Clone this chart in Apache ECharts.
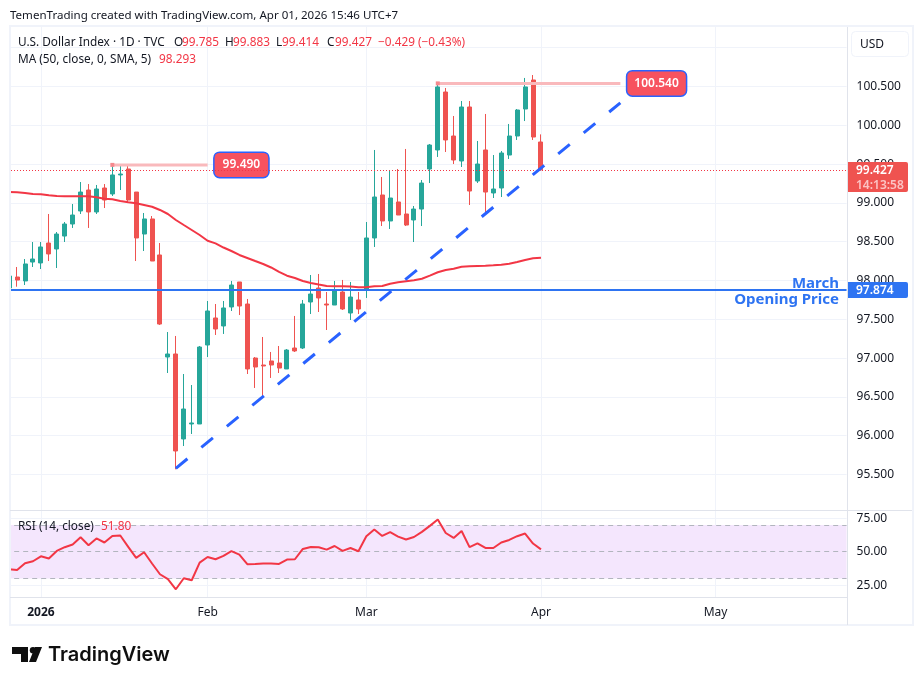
<!DOCTYPE html>
<html>
<head>
<meta charset="utf-8">
<title>U.S. Dollar Index</title>
<script src="https://cdn.jsdelivr.net/npm/echarts@6/dist/echarts.min.js"></script>
<style>
html, body { margin: 0; padding: 0; background: #fff; }
#chart { width: 923px; height: 685px; }
</style>
</head>
<body>
<div id="chart"></div>
<script>
// trading days, Dec 26 to the empty space after the last bar
var dates = ["2025-12-26", "2025-12-29", "2025-12-30", "2025-12-31", "2026-01-02",
    "2026-01-05", "2026-01-06", "2026-01-07", "2026-01-08", "2026-01-09",
    "2026-01-12", "2026-01-13", "2026-01-14", "2026-01-15", "2026-01-16",
    "2026-01-19", "2026-01-20", "2026-01-21", "2026-01-22", "2026-01-23",
    "2026-01-26", "2026-01-27", "2026-01-28", "2026-01-29", "2026-01-30",
    "2026-02-02", "2026-02-03", "2026-02-04", "2026-02-05", "2026-02-06",
    "2026-02-09", "2026-02-10", "2026-02-11", "2026-02-12", "2026-02-13",
    "2026-02-16", "2026-02-17", "2026-02-18", "2026-02-19", "2026-02-20",
    "2026-02-23", "2026-02-24", "2026-02-25", "2026-02-26", "2026-02-27",
    "2026-03-02", "2026-03-03", "2026-03-04", "2026-03-05", "2026-03-06",
    "2026-03-09", "2026-03-10", "2026-03-11", "2026-03-12", "2026-03-13",
    "2026-03-16", "2026-03-17", "2026-03-18", "2026-03-19", "2026-03-20",
    "2026-03-23", "2026-03-24", "2026-03-25", "2026-03-26", "2026-03-27",
    "2026-03-30", "2026-03-31", "2026-04-01", "2026-04-02", "2026-04-03",
    "2026-04-06", "2026-04-07", "2026-04-08", "2026-04-09", "2026-04-10",
    "2026-04-13", "2026-04-14", "2026-04-15", "2026-04-16", "2026-04-17",
    "2026-04-20", "2026-04-21", "2026-04-22", "2026-04-23", "2026-04-24",
    "2026-04-27", "2026-04-28", "2026-04-29", "2026-04-30", "2026-05-01",
    "2026-05-04", "2026-05-05", "2026-05-06", "2026-05-07", "2026-05-08",
    "2026-05-11", "2026-05-12", "2026-05-13", "2026-05-14", "2026-05-15",
    "2026-05-18", "2026-05-19", "2026-05-20", "2026-05-21", "2026-05-22",
    "2026-05-25"];

var tickDates = ["2026-01-02", "2026-02-02", "2026-03-02", "2026-04-01", "2026-05-01"];
var tickLabels = ["2026", "Feb", "Mar", "Apr", "May"];
var priceTicks = [95.5, 96, 96.5, 97, 97.5, 98, 98.5, 99, 99.5, 100, 100.5];
var priceGrid = [95.5, 96, 96.5, 97, 97.5, 98, 98.5, 99, 99.5, 100, 100.5, 101];
var rsiTicks = [25, 50, 75];
var rsiLevels = [30, 50, 70];

var opens = [97.903, 98.045, 97.994, 98.238, 98.226, 98.483, 98.406, 98.573, 98.728, 98.896,
    99.166, 98.883, 99.192, 99.115, 99.360, 99.437, 99.140, 98.599, 98.793, 98.329,
    97.014, 97.053, 95.958, 96.151, 96.151, 97.169, 97.517, 97.414, 97.659, 97.981,
    97.697, 97.001, 96.911, 96.963, 96.937, 96.860, 97.130, 97.130, 97.723, 97.903,
    97.697, 97.684, 97.852, 97.581, 97.749, 97.878, 98.548, 99.102, 98.767, 99.012,
    98.857, 98.780, 98.921, 99.437, 99.682, 100.429, 99.862, 99.540, 100.236, 99.282,
    99.682, 99.128, 99.192, 99.617, 99.862, 100.210, 100.584, 99.785];
var closes = [98.058, 98.006, 98.213, 98.277, 98.432, 98.342, 98.599, 98.728, 98.844, 99.140,
    98.883, 99.179, 99.037, 99.360, 99.372, 99.037, 98.548, 98.793, 98.251, 97.439,
    97.053, 95.803, 96.344, 96.164, 97.143, 97.607, 97.375, 97.646, 97.942, 97.671,
    96.860, 96.885, 96.898, 96.911, 96.872, 97.104, 97.092, 97.697, 97.826, 97.775,
    97.684, 97.878, 97.633, 97.787, 97.633, 98.548, 99.076, 98.767, 99.063, 98.844,
    98.715, 98.921, 99.256, 99.746, 100.494, 99.811, 99.553, 100.236, 99.153, 99.501,
    99.140, 99.179, 99.643, 99.862, 100.197, 100.494, 99.849, 99.427];
var lows = [97.870, 97.920, 97.942, 98.174, 98.148, 98.251, 98.161, 98.496, 98.677, 98.857,
    98.677, 98.857, 98.934, 99.089, 99.166, 99.012, 98.251, 98.380, 98.251, 97.427,
    96.808, 95.567, 95.867, 96.022, 96.151, 97.014, 97.298, 97.311, 97.607, 97.555,
    96.795, 96.615, 96.486, 96.744, 96.808, 96.860, 97.079, 97.117, 97.568, 97.594,
    97.362, 97.684, 97.620, 97.491, 97.568, 97.775, 98.432, 98.702, 98.664, 98.844,
    98.702, 98.496, 98.702, 99.256, 99.592, 99.656, 99.501, 99.463, 98.973, 99.256,
    98.870, 99.063, 99.076, 99.566, 99.811, 100.055, 99.811, 99.414];
var highs = [98.100, 98.174, 98.277, 98.496, 98.496, 98.857, 98.625, 98.754, 98.986, 99.269,
    99.243, 99.231, 99.243, 99.490, 99.488, 99.476, 99.140, 98.870, 98.831, 98.483,
    97.336, 97.285, 96.795, 96.653, 97.156, 97.736, 97.697, 97.736, 97.994, 97.981,
    97.762, 97.014, 97.272, 97.079, 97.156, 97.117, 97.543, 97.749, 98.071, 98.084,
    97.852, 97.994, 98.007, 97.981, 97.852, 98.754, 99.682, 99.334, 99.411, 99.437,
    99.695, 98.960, 99.295, 99.759, 100.540, 100.481, 100.120, 100.313, 100.313, 99.798,
    100.146, 99.617, 99.669, 100.017, 100.210, 100.610, 100.648, 99.883];

var ma50 = [99.141, 99.137, 99.128, 99.115, 99.111, 99.098, 99.089, 99.085, 99.085, 99.086,
    99.085, 99.072, 99.054, 99.046, 99.025, 99.008, 98.995, 98.973, 98.951, 98.909,
    98.857, 98.780, 98.715, 98.651, 98.586, 98.513, 98.479, 98.425, 98.380, 98.329,
    98.290, 98.251, 98.213, 98.168, 98.110, 98.062, 98.032, 97.994, 97.968, 97.948,
    97.929, 97.925, 97.925, 97.923, 97.912, 97.912, 97.925, 97.929, 97.959, 97.977,
    97.990, 98.003, 98.023, 98.062, 98.106, 98.135, 98.152, 98.178, 98.183, 98.187,
    98.191, 98.196, 98.204, 98.216, 98.238, 98.264, 98.286, 98.293];

var rsi = [36.9, 36.4, 41.4, 42.9, 46.6, 44.9, 50.6, 53.4, 55.4, 60.8,
    54.9, 59.9, 56.9, 61.8, 62.1, 53.6, 45.4, 49.6, 41.2, 33.2,
    29.5, 22.0, 30.2, 28.7, 41.9, 46.1, 44.4, 46.9, 50.4, 47.9,
    40.7, 40.9, 41.2, 41.2, 40.9, 44.2, 44.4, 52.1, 53.6, 53.4,
    51.6, 54.3, 50.6, 52.8, 50.4, 61.6, 66.6, 61.8, 64.6, 61.3,
    59.1, 61.0, 64.8, 69.3, 74.0, 64.0, 60.3, 65.5, 53.4, 56.3,
    52.8, 52.8, 56.9, 58.8, 61.6, 63.6, 56.1, 51.8];

// drawing tools on the chart, as [category index, price]
var trendLine = [[21, 95.58], [77, 100.29]];
var highLeft = [[13, 99.49], [25, 99.49]];
var highRight = [[54, 100.54], [77, 100.54]];
var priceLine = 99.418;
var marchOpen = 97.878;

var UP = "#26a69a", DOWN = "#ef5350", LINE = "#f23645", BLUE = "#2962ff", MARCH = "#2e74f2";
var TEXT = "#131722", GRID = "#f0f3fa", BORDER = "#e0e3eb";
var FONT = "Noto Sans";

var candles = opens.map(function (o, i) { return [o, closes[i], lows[i], highs[i]]; });

function isTick(index, value) { return tickDates.indexOf(value) >= 0; }

function highSeries(points, pad)
{
    return {
        type: "line",
        data: [
            {value: points[0], symbol: "rect", symbolSize: 4, itemStyle: {color: "#f5898e"}},
            {
                value: points[1],
                symbolSize: 0,
                label: {
                    show: true,
                    position: "right",
                    distance: 7,
                    formatter: points[0][1].toFixed(3),
                    color: "#fff",
                    fontFamily: FONT,
                    fontSize: 12,
                    fontWeight: 600,
                    backgroundColor: "#f7525f",
                    borderColor: BLUE,
                    borderWidth: 1.5,
                    borderRadius: 5,
                    padding: [6, pad]
                }
            }
        ],
        lineStyle: {color: "#f9b9bc", width: 3},
        itemStyle: {color: "#f9b9bc"},
        silent: true,
        animation: false,
        z: 3
    };
}

function badge(y, h, color, top, bottom)
{
    var kids = [{type: "rect", shape: {x: 848, y: y, width: 60, height: h, r: [0, 2, 2, 0]}, style: {fill: color}, z: 50},
        {type: "text", x: 856, y: y + (bottom ? 9 : h / 2 + 0.5), style: {text: top, fill: "#fff", font: "600 12px " + FONT, verticalAlign: "middle"}, z: 51}];
    if (bottom)
    {
        kids.push({type: "text", x: 856, y: y + 24, style: {text: bottom, fill: "#fbc4c4", font: "600 12px " + FONT, verticalAlign: "middle"}, z: 51});
    }
    return kids;
}

function label(x, y, text, color, size)
{
    return {type: "text", x: x, y: y, style: {text: text, fill: color, font: (size || 11.8) + "px " + FONT, verticalAlign: "middle"}, z: 43};
}

var graphics = [
    {type: "rect", shape: {x: 0, y: 0, width: 10, height: 685}, style: {fill: "#fff"}, z: 40},
    {type: "rect", shape: {x: 10, y: 26, width: 903, height: 599}, style: {fill: "none", stroke: GRID, lineWidth: 2}, z: 41},
    {type: "line", shape: {x1: 847.5, y1: 27, x2: 847.5, y2: 625}, style: {stroke: BORDER, lineWidth: 1}, z: 41},
    {type: "line", shape: {x1: 10, y1: 510.5, x2: 912, y2: 510.5}, style: {stroke: BORDER, lineWidth: 1}, z: 41},
    {type: "line", shape: {x1: 10, y1: 597.5, x2: 848, y2: 597.5}, style: {stroke: BORDER, lineWidth: 1}, z: 41},
    {type: "rect", shape: {x: 851.5, y: 31.5, width: 57, height: 25, r: 4}, style: {fill: "#fff", stroke: GRID, lineWidth: 1}, z: 42},
    label(860, 45, "USD", TEXT, 12),
    label(10, 16, "TemenTrading created with TradingView.com, Apr 01, 2026 15:46 UTC+7", TEXT, 11.55),
    label(18, 43, "U.S. Dollar Index · 1D · TVC", TEXT),
    label(174, 43, "O", TEXT), label(182, 43, "99.785", LINE),
    label(225, 43, "H", TEXT), label(233, 43, "99.883", LINE),
    label(276, 43, "L", TEXT), label(282, 43, "99.414", LINE),
    label(327, 43, "C", TEXT), label(335, 43, "99.427", LINE),
    label(378, 43, "−0.429 (−0.43%)", LINE),
    label(18, 60, "MA (50, close, 0, SMA, 5)", TEXT), label(159, 60, "98.293", LINE),
    label(18, 527, "RSI (14, close)", TEXT), label(101, 527, "51.80", LINE),
    {type: "text", x: 839, y: 284, style: {text: "March", fill: MARCH, font: "bold 15px " + FONT, align: "right", verticalAlign: "middle"}, z: 43},
    {type: "text", x: 839, y: 300, style: {text: "Opening Price", fill: MARCH, font: "bold 15px " + FONT, align: "right", verticalAlign: "middle"}, z: 43},
    // logo
    {type: "polygon", shape: {points: [[12, 647], [28, 647], [28, 662], [21, 662], [21, 654], [12, 654]]}, style: {fill: "#0f0f0f"}, z: 43},
    {type: "circle", shape: {cx: 33, cy: 650.2, r: 3.2}, style: {fill: "#0f0f0f"}, z: 43},
    {type: "polygon", shape: {points: [[35, 647], [42, 647], [36, 662], [29, 662]]}, style: {fill: "#0f0f0f"}, z: 43},
    {type: "text", x: 48, y: 655, style: {text: "TradingView", fill: "#0f0f0f", font: "600 20px Inter", verticalAlign: "middle"}, z: 43}
].concat(badge(162, 30, "#ef5350", "99.427", "14:13:58"), badge(282, 16, MARCH, "97.874"));

var chart = echarts.init(document.getElementById("chart"), null, {renderer: "canvas"});

chart.setOption({
    animation: false,
    backgroundColor: "#fff",
    textStyle: {fontFamily: FONT},
    grid: [
        {left: 5.186, width: 841.375, top: 27, height: 483},
        {left: 5.186, width: 841.375, top: 511, height: 86.5}
    ],
    xAxis: [
        {
            type: "category",
            gridIndex: 0,
            data: dates,
            axisLine: {show: false},
            axisTick: {show: false},
            axisLabel: {show: false},
            splitLine: {show: true, alignWithLabel: true, interval: isTick, lineStyle: {color: GRID}}
        },
        {
            type: "category",
            gridIndex: 1,
            data: dates,
            axisLine: {show: false},
            axisTick: {show: false},
            axisLabel: {
                show: true,
                interval: isTick,
                margin: 9,
                color: TEXT,
                fontSize: 12,
                fontFamily: FONT,
                formatter: function (value)
                {
                    var text = tickLabels[tickDates.indexOf(value)];
                    return text === "2026" ? "{y|" + text + "}" : text;
                },
                rich: {y: {fontWeight: "bold", fontSize: 12, fontFamily: FONT, color: TEXT}}
            },
            splitLine: {show: true, alignWithLabel: true, interval: isTick, lineStyle: {color: GRID}}
        }
    ],
    yAxis: [
        {
            type: "value",
            gridIndex: 0,
            position: "right",
            min: 95.0425,
            max: 101.2668,
            axisLine: {show: false},
            axisTick: {show: false, customValues: priceGrid},
            splitLine: {show: true, lineStyle: {color: GRID}},
            axisLabel: {
                customValues: priceTicks,
                margin: 10,
                padding: [4, 0, 0, 0],
                color: TEXT,
                fontSize: 12,
                fontFamily: FONT,
                formatter: function (v) { return v.toFixed(3); }
            }
        },
        {
            type: "value",
            gridIndex: 1,
            position: "right",
            min: 15.85,
            max: 80.4,
            axisLine: {show: false},
            axisTick: {show: false, customValues: rsiTicks},
            splitLine: {show: true, lineStyle: {color: GRID}},
            axisLabel: {
                customValues: rsiTicks,
                margin: 10,
                padding: [5, 0, 0, 0],
                color: TEXT,
                fontSize: 12,
                fontFamily: FONT,
                formatter: function (v) { return v.toFixed(2); }
            }
        }
    ],
    series: [
        {
            type: "candlestick",
            name: "DXY",
            data: candles,
            barWidth: 4.5,
            itemStyle: {color: UP, color0: DOWN, borderColor: UP, borderColor0: DOWN, borderWidth: 1},
            silent: true,
            markLine: {
                silent: true,
                symbol: "none",
                label: {show: false},
                animation: false,
                data: [
                    {yAxis: priceLine, lineStyle: {color: LINE, type: [1, 2], dashOffset: 0.186, width: 1}},
                    {yAxis: marchOpen, lineStyle: {color: MARCH, type: "solid", width: 2}}
                ]
            }
        },
        {
            type: "line",
            name: "MA",
            data: ma50,
            symbol: "none",
            lineStyle: {color: LINE, width: 2},
            silent: true,
            z: 4
        },
        {
            type: "line",
            name: "Trend",
            data: trendLine,
            symbol: "none",
            lineStyle: {color: BLUE, width: 3, type: [15, 18]},
            silent: true,
            z: 5
        },
        highSeries(highLeft, 8),
        highSeries(highRight, 7),
        {
            type: "line",
            name: "RSI",
            xAxisIndex: 1,
            yAxisIndex: 1,
            data: rsi,
            symbol: "none",
            lineStyle: {color: LINE, width: 2},
            silent: true,
            z: 5,
            markArea: {
                silent: true,
                itemStyle: {color: "#f4e6fd"},
                data: [[{yAxis: rsiLevels[0]}, {yAxis: rsiLevels[2]}]]
            },
            markLine: {
                silent: true,
                symbol: "none",
                label: {show: false},
                lineStyle: {color: "#b2b5be", type: [5, 4], width: 1},
                data: rsiLevels.map(function (v) { return {yAxis: v}; })
            }
        }
    ],
    graphic: {elements: graphics}
});
</script>
</body>
</html>
